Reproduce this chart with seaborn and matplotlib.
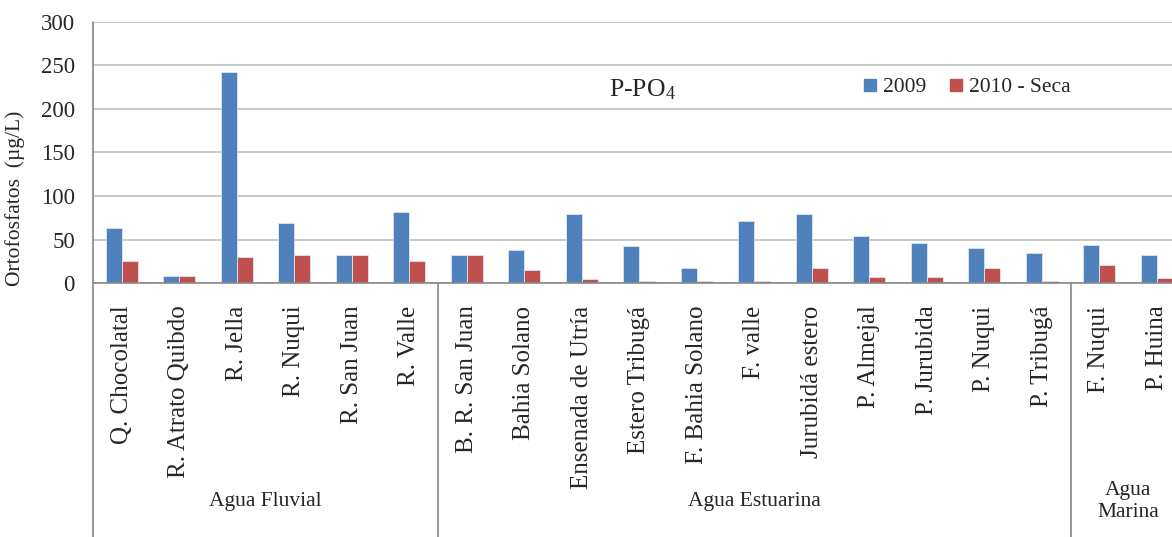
import numpy as np
import pandas as pd
import matplotlib
matplotlib.use("Agg")
import matplotlib.pyplot as plt
import matplotlib.transforms as mtransforms
from matplotlib.lines import Line2D
import seaborn as sns

# datos
sitios = ["Q. Chocolatal", "R. Atrato Quibdo", "R. Jella", "R. Nuqui", "R. San Juan",
          "R. Valle", "B. R. San Juan", "Bahia Solano", "Ensenada de Utría",
          "Estero Tribugá", "F. Bahia Solano", "F. valle", "Jurubidá estero",
          "P. Almejal", "P. Jurubida", "P. Nuqui", "P. Tribugá", "F. Nuqui", "P. Huina"]
v2009 = [63, 8.5, 242, 69.5, 32, 82, 32, 38, 80, 43, 18, 71, 79, 54, 46, 41, 35, 44, 32]
v2010 = [26, 8.5, 30, 32, 32, 26, 32, 15, 5, 2.5, 2.5, 2.5, 18, 7, 7, 18, 2.5, 21, 5.7]
series = ["2009", "2010 - Seca"]
grupos = ["Agua Fluvial", "Agua Estuarina", "Agua\nMarina"]
grupo_n = [6, 11, 2]

colores = ["#4F81BD", "#C0504D"]
gris = "#BFBFBF"
gris_eje = "#888888"

df = pd.DataFrame({
    "sitio": sitios * 2,
    "serie": [series[0]] * len(sitios) + [series[1]] * len(sitios),
    "valor": v2009 + v2010,
})

sns.set_style("white")
plt.rcParams["font.family"] = ["Liberation Serif", "DejaVu Serif"]
plt.rcParams["mathtext.fontset"] = "custom"
plt.rcParams["mathtext.rm"] = "Liberation Serif"
plt.rcParams["mathtext.it"] = "Liberation Serif"

W, H = 1172, 537
fig = plt.figure(figsize=(W / 100, H / 100), dpi=100)
ax = fig.add_axes([93 / W, (H - 283.3) / H, 1092.5 / W, 261.6 / H])

sns.barplot(data=df, x="sitio", y="valor", hue="serie", palette=colores,
            saturation=1, width=0.56, edgecolor="#DDE6F2", linewidth=0.6,
            ax=ax, legend=False)

ax.set_xlim(-0.5, len(sitios) - 0.5)
ax.set_ylim(0, 300)
ax.set_yticks(np.arange(0, 301, 50))
ax.yaxis.grid(True, color=gris, linewidth=1.2)
ax.set_axisbelow(True)
ax.set_xlabel("")
ax.set_ylabel("")

for s in ["top", "right"]:
    ax.spines[s].set_visible(False)
ax.spines["left"].set_visible(False)
ax.spines["bottom"].set_color(gris_eje)
ax.spines["bottom"].set_linewidth(1.2)

ax.tick_params(axis="x", length=0, pad=16, labelsize=18, labelrotation=90)
ax.tick_params(axis="y", length=5, width=1.2, color=gris_eje, pad=8, labelsize=16.5)

# eje izquierdo prolongado y separadores de grupos
ax.plot([0, 0], [-1.0, 1.0], transform=ax.transAxes, color=gris_eje,
        linewidth=1.2, clip_on=False)
trans = mtransforms.blended_transform_factory(ax.transData, ax.transAxes)
inicio = -0.5
for g, n in zip(grupos, grupo_n):
    fin = inicio + n
    if fin < len(sitios) - 0.5:
        ax.plot([fin, fin], [0, -1.0], transform=trans, color=gris_eje,
                linewidth=1.2, clip_on=False)
    ax.text((inicio + fin) / 2, -0.835, g, transform=trans, ha="center",
            va="center", fontsize=15.5, linespacing=1.25)
    inicio = fin

ax.text(9.05, 222, r"P-PO$_4$", ha="center", va="center", fontsize=18.5)

fig.text(15 / W, 1 - 198 / H, "Ortofosfatos  (µg/L)", rotation=90,
         ha="center", va="center", fontsize=15.5)

handles = [Line2D([], [], marker="s", linestyle="", markersize=9,
                  markerfacecolor=c, markeredgecolor=c) for c in colores]
fig.legend(handles, series, loc="center", bbox_to_anchor=(966 / W, 1 - 87 / H),
           ncol=2, frameon=False, fontsize=15.5, handletextpad=0.2,
           columnspacing=1.0, handlelength=0.8)

fig.savefig("out.png", dpi=100)
